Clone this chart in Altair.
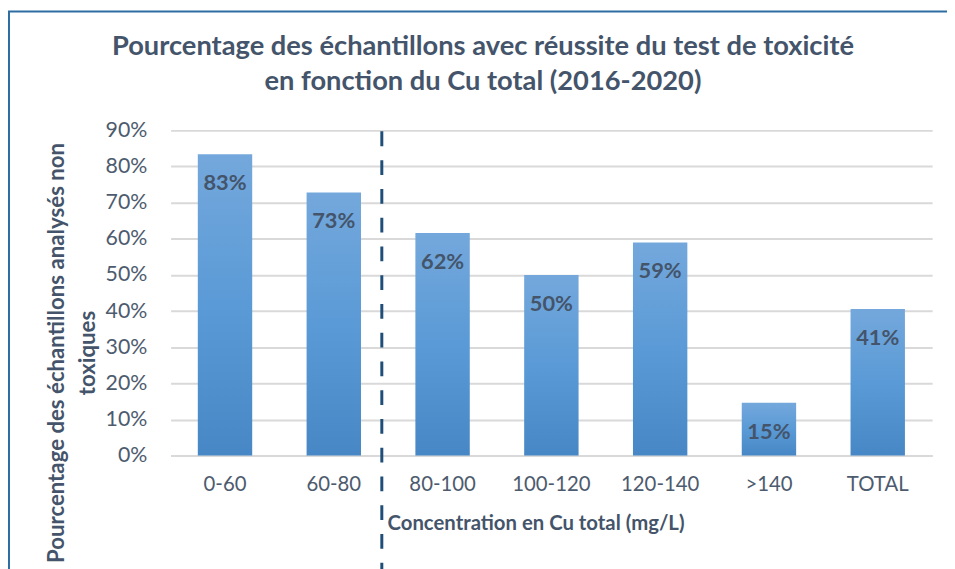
import altair as alt
import pandas as pd

categories = ["0-60", "60-80", "80-100", "100-120", "120-140", ">140", "TOTAL"]
values = [0.834, 0.728, 0.616, 0.50, 0.59, 0.146, 0.406]
labels = ["83%", "73%", "62%", "50%", "59%", "15%", "41%"]
y_ticks = [0, 0.1, 0.2, 0.3, 0.4, 0.5, 0.6, 0.7, 0.8, 0.9]

title_lines = ["Pourcentage des échantillons avec réussite du test de toxicité",
               "en fonction du Cu total (2016-2020)"]
y_title = ["Pourcentage des échantillons analysés non", "toxiques"]
x_title = "Concentration en Cu total (mg/L)"

df = pd.DataFrame({"cat": categories, "val": values, "lab": labels})

W, H = 768, 328
FONT = "Lato"
DARK = "#44546a"

x_enc = alt.X("cat:N", sort=categories, scale=alt.Scale(paddingInner=0.5, paddingOuter=0.25),
              axis=alt.Axis(title=x_title, labelAngle=0, labelFontSize=20.5, labelFont=FONT,
                            labelColor="#4d5b6e", labelPadding=19, ticks=False,
                            domainColor="#d9d9d9", domainWidth=2,
                            titleFont=FONT, titleFontSize=20.5, titleFontWeight="bold",
                            titleColor=DARK, titleX=368, titleY=75, titleAlign="center",
                            titleBaseline="alphabetic"))
y_enc = alt.Y("val:Q", scale=alt.Scale(domain=[0, 0.9], nice=False),
              axis=alt.Axis(title=y_title, format=".0%", values=y_ticks,
                            labelOverlap=False, labelFontSize=21.5, labelFont=FONT,
                            labelColor="#4d5b6e", labelPadding=24, ticks=False, domain=False,
                            gridColor="#d9d9d9", gridWidth=2,
                            titleFont=FONT, titleFontSize=22.4, titleFontWeight="bold",
                            titleColor=DARK, titleAngle=-90, titleX=-115, titleY=224,
                            titleAlign="center", titleBaseline="middle", titleLineHeight=31))

grad = alt.Gradient(gradient="linear",
                    stops=[alt.GradientStop(color="#74a8dc", offset=0),
                           alt.GradientStop(color="#5a9ad6", offset=0.5),
                           alt.GradientStop(color="#4787c5", offset=1)],
                    x1=0, x2=0, y1=0, y2=1)

base = alt.Chart(df)
bars = base.mark_bar(fill=grad).encode(x=x_enc, y=y_enc)
text = base.mark_text(font=FONT, fontSize=22, fontWeight="bold", color=DARK,
                      baseline="middle", dy=29).encode(x=x_enc, y=y_enc, text="lab:N")

rule_df = pd.DataFrame({"cat": ["60-80"]})
rule = alt.Chart(rule_df).mark_rule(color="#1f4e79", strokeWidth=3, strokeDash=[15, 14],
                                    clip=False, xOffset=21).encode(
    x=alt.X("cat:N", sort=categories, bandPosition=1),
    y=alt.value(1), y2=alt.value(H + 130))

border = alt.Chart(rule_df).mark_rect(fill=None, stroke="#2e6da4", strokeWidth=2, clip=False).encode(
    x=alt.value(-163), x2=alt.value(W + 120), y=alt.value(-120), y2=alt.value(H + 200))

title = alt.Chart(rule_df).mark_text(font=FONT, fontSize=27.5, fontWeight="bold", color=DARK,
                                     align="center", baseline="alphabetic", lineHeight=35,
                                     clip=False).encode(
    x=alt.value(315), y=alt.value(-76), text=alt.value(title_lines))

chart = alt.layer(border, bars, text, rule, title).properties(
    width=W, height=H,
    autosize=alt.AutoSizeParams(type="none"),
    padding={"left": 164, "top": 121, "right": 15, "bottom": 120},
).configure_view(stroke=None)

chart.save("out.html", embed_options={"renderer": "svg", "actions": False})
